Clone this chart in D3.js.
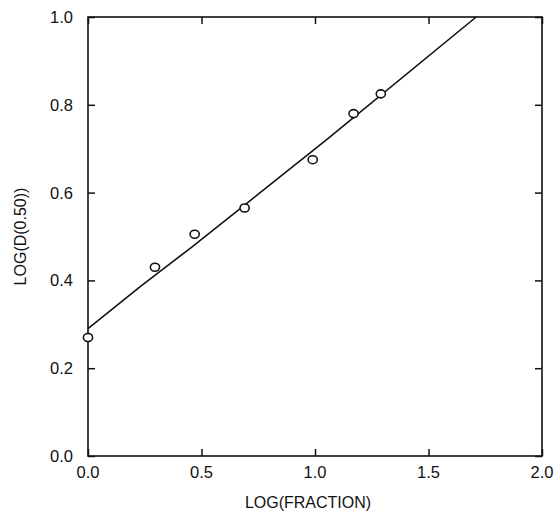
<!DOCTYPE html>
<html>
<head>
<meta charset="utf-8">
<script src="https://cdn.jsdelivr.net/npm/d3@7"></script>
<style>
  body { margin: 0; background: #fff; }
  svg { display: block; }
  text { font-family: "Liberation Sans", Arial, sans-serif; fill: #111; }
</style>
</head>
<body>
<div id="container"></div>
<script>
let width = 558
let height = 522
let margin = ({ top: 17, right: 16, bottom: 66, left: 88 })

// measured points
let fracX = [0.0, 0.295, 0.47, 0.69, 0.99, 1.17, 1.29]
let d50Y = [0.27, 0.43, 0.505, 0.565, 0.675, 0.78, 0.825]

// fitted curve as drawn
let fitX = [0.0, 0.23, 0.46, 1.05, 1.71]
let fitY = [0.29, 0.386, 0.477, 0.72, 1.0]

let xTicks = [0, 0.5, 1.0, 1.5, 2.0]
let yTicks = [0, 0.2, 0.4, 0.6, 0.8, 1.0]

let points = fracX.map((d, i) => ({ x: d, y: d50Y[i] }))
let fit = fitX.map((d, i) => ({ x: d, y: fitY[i] }))

let x = d3.scaleLinear()
    .domain([0, 2])
    .range([margin.left, width - margin.right])

let y = d3.scaleLinear()
    .domain([0, 1])
    .range([height - margin.bottom, margin.top])

let svg = d3.select("#container")
    .append("svg")
    .attr("width", width)
    .attr("height", height)

// inward ticks on all four sides
let tick = 7
let fmt = d3.format(".1f")

svg.append("g")
    .attr("transform", `translate(0,${height - margin.bottom})`)
    .call(d3.axisTop(x).tickValues(xTicks).tickSize(tick).tickFormat(""))
    .call(g => g.select(".domain").remove())

svg.append("g")
    .attr("transform", `translate(0,${margin.top})`)
    .call(d3.axisBottom(x).tickValues(xTicks).tickSize(tick).tickFormat(""))
    .call(g => g.select(".domain").remove())

svg.append("g")
    .attr("transform", `translate(${margin.left},0)`)
    .call(d3.axisRight(y).tickValues(yTicks).tickSize(tick).tickFormat(""))
    .call(g => g.select(".domain").remove())

svg.append("g")
    .attr("transform", `translate(${width - margin.right},0)`)
    .call(d3.axisLeft(y).tickValues(yTicks).tickSize(tick).tickFormat(""))
    .call(g => g.select(".domain").remove())

svg.selectAll(".tick line")
    .attr("stroke", "#111")
    .attr("stroke-width", 1.5)

// tick labels
svg.append("g")
    .selectAll("text")
    .data(xTicks)
    .join("text")
    .attr("x", d => x(d))
    .attr("y", height - margin.bottom + 22)
    .attr("text-anchor", "middle")
    .style("font-size", "16.5px")
    .text(fmt)

svg.append("g")
    .selectAll("text")
    .data(yTicks)
    .join("text")
    .attr("x", margin.left - 15)
    .attr("y", d => y(d) + 6)
    .attr("text-anchor", "end")
    .style("font-size", "16.5px")
    .text(fmt)

// frame
svg.append("rect")
    .attr("x", margin.left)
    .attr("y", margin.top)
    .attr("width", width - margin.left - margin.right)
    .attr("height", height - margin.top - margin.bottom)
    .attr("fill", "none")
    .attr("stroke", "#111")
    .attr("stroke-width", 1.6)

// axis titles
svg.append("text")
    .attr("x", 308)
    .attr("y", 508)
    .attr("text-anchor", "middle")
    .style("font-size", "16px")
    .text("LOG(FRACTION)")

svg.append("text")
    .attr("transform", `translate(26,${(margin.top + height - margin.bottom) / 2}) rotate(-90)`)
    .attr("text-anchor", "middle")
    .style("font-size", "16px")
    .text("LOG(D(0.50))")

// fitted line
let line = d3.line()
    .x(d => x(d.x))
    .y(d => y(d.y))

svg.append("path")
    .datum(fit)
    .attr("fill", "none")
    .attr("stroke", "#111")
    .attr("stroke-width", 1.6)
    .attr("stroke-linejoin", "round")
    .attr("d", line)

// data circles
svg.append("g")
    .selectAll("ellipse")
    .data(points)
    .join("ellipse")
    .attr("cx", d => x(d.x))
    .attr("cy", d => y(d.y))
    .attr("rx", 4.6)
    .attr("ry", 4)
    .attr("fill", "#fff")
    .attr("stroke", "#111")
    .attr("stroke-width", 1.6)
</script>
</body>
</html>
